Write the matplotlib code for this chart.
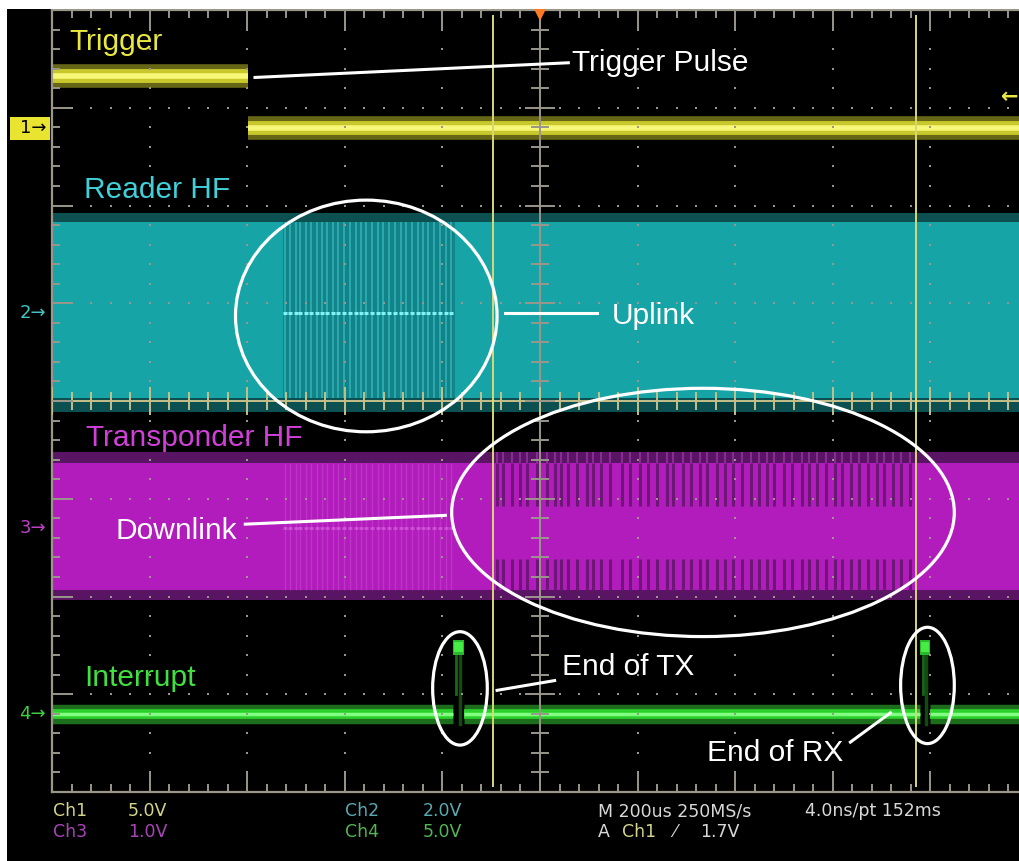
import numpy as np
import matplotlib.pyplot as plt
from matplotlib.patches import Ellipse, Rectangle

# scope screen is 10 x 8 divisions, x = 0 at the trigger point
# ---- channel data (divisions) ----
trig_levels = [3.32, 2.79]          # Ch1 high / low
trig_edge = -2.99                   # falling edge of trigger pulse

reader_outer = [-0.11, 1.92]        # Ch2 envelope
reader_inner = [0.03, 1.83]
reader_level = 0.90
uplink_span = [-2.63, -0.87]
uplink_stripes = [-2.61, -2.56, -2.50, -2.46, -2.40, -2.35, -2.28, -2.23,
                  -2.18, -2.12, -2.07, -2.01, -1.95, -1.89, -1.83, -1.78,
                  -1.72, -1.66, -1.61, -1.55, -1.49, -1.42, -1.37, -1.31,
                  -1.25, -1.20, -1.15, -1.09, -1.02, -0.96, -0.91]

transp_outer = [-2.04, -0.52]       # Ch3 envelope
transp_inner = [-1.93, -0.63]
transp_level = -1.30
downlink_stripes = [-0.44, -0.38, -0.29, -0.20, -0.13, -0.03, 0.07, 0.15,
                    0.22, 0.29, 0.38, 0.48, 0.54, 0.63, 0.72, 0.84, 0.92,
                    1.02, 1.11, 1.20, 1.30, 1.36, 1.47, 1.55, 1.64, 1.71,
                    1.81, 1.90, 1.98, 2.07, 2.16, 2.24, 2.33, 2.40, 2.50,
                    2.58, 2.68, 2.76, 2.84, 2.93, 3.02, 3.09, 3.19, 3.27,
                    3.36, 3.45, 3.52, 3.62, 3.70, 3.79]
downlink_top = [-0.63, -1.07]
downlink_bot = [-1.62, -1.93]

irq_low, irq_high = -3.20, -2.52    # Ch4
irq_pulses = [-0.89, 3.89]
irq_width = 0.11

cursors = [-0.48, 3.85]

C_YEL = '#e8e840'
C_CYAN = '#17a4a7'
C_MAG = '#b21cbc'
C_GRID = '#9a968a'

fig = plt.figure(figsize=(10.19, 8.61), dpi=100, facecolor='black')
ax = fig.add_axes([52/1019, 69/861, 976/1019, 782/861])
ax.set_facecolor('black')
ax.set_xlim(-5, 5)
ax.set_ylim(-4, 4)
ax.axis('off')

# ---- Ch2 reader HF ----
ax.fill_between([-5, 5], *reader_outer, color='#0d5052', lw=0, zorder=1)
ax.fill_between([-5, 5], *reader_inner, color=C_CYAN, lw=0, zorder=1)
ax.fill_between(uplink_span, *reader_inner, color='#128489', lw=0, zorder=1)
ax.vlines(uplink_stripes, reader_inner[0], reader_inner[1],
          color='#3cc6c8', lw=1.1, alpha=0.75, zorder=2)
ax.plot(uplink_stripes, [reader_level]*len(uplink_stripes), ls='none',
        marker='_', ms=3.5, mew=2.2, color='#80f4f4', zorder=2)

# ---- Ch3 transponder HF ----
ax.fill_between([-5, 5], *transp_outer, color='#5a1464', lw=0, zorder=1)
ax.fill_between([-5, 5], *transp_inner, color=C_MAG, lw=0, zorder=1)
ax.vlines(uplink_stripes, transp_inner[0], transp_inner[1],
          color='#d060d8', lw=1, alpha=0.35, zorder=2)
ax.plot(uplink_stripes, [transp_level]*len(uplink_stripes), ls='none',
        marker='_', ms=3.5, mew=2, color='#e070e8', alpha=0.6, zorder=2)
ax.vlines(downlink_stripes, *downlink_top, color='#6c1676', lw=2.2, zorder=2)
ax.vlines(downlink_stripes, *downlink_bot, color='#6c1676', lw=2.2, zorder=2)
ax.vlines(downlink_stripes, transp_outer[1], downlink_top[0],
          color='#8a2a94', lw=1.5, zorder=2)

# ---- Ch1 trigger ----
segs1 = [([-5, trig_edge], trig_levels[0]), ([trig_edge, 5], trig_levels[1])]
for xs, lv in segs1:
    ax.plot(xs, [lv, lv], color='#666616', lw=17, solid_capstyle='butt', zorder=3)
    ax.plot(xs, [lv, lv], color='#c8c82c', lw=10, solid_capstyle='butt', zorder=3)
    ax.plot(xs, [lv, lv], color='#f8f878', lw=4, solid_capstyle='butt', zorder=3)

# ---- Ch4 interrupt ----
edges = [-5]
for p in irq_pulses:
    edges += [p, p + irq_width]
edges += [5]
for a, b in zip(edges[::2], edges[1::2]):
    ax.plot([a, b], [irq_low]*2, color='#1c6e1c', lw=14, solid_capstyle='butt', zorder=3)
    ax.plot([a, b], [irq_low]*2, color='#2cd02c', lw=7, solid_capstyle='butt', zorder=3)
    ax.plot([a, b], [irq_low]*2, color='#80ff80', lw=2.5, solid_capstyle='butt', zorder=3)
for p in irq_pulses:
    ax.plot([p + 0.03, p + 0.03], [irq_high, irq_low + 0.2], color='#186818', lw=2, zorder=3)
    ax.plot([p + 0.07, p + 0.07], [irq_high - 0.05, irq_low - 0.1], color='#124a12', lw=2.5, zorder=3)
    ax.add_patch(Rectangle((p, irq_high - 0.08), irq_width, 0.16,
                           fc='#2cb82c', ec='none', zorder=3))
    ax.add_patch(Rectangle((p + 0.01, irq_high - 0.05), irq_width - 0.02, 0.1,
                           fc='#44ec44', ec='none', zorder=3))

# ---- graticule ----
steps = np.round(np.arange(-5, 5.001, 0.2), 2)
vsteps = np.round(np.arange(-4, 4.001, 0.2), 2)
for xv in [-4, -3, -2, -1, 1, 2, 3, 4]:
    ax.plot([xv]*len(vsteps), vsteps, ls='none', marker='s', ms=1.6,
            color=C_GRID, mew=0, zorder=4)
for yv in [-3, -2, -1, 1, 2, 3]:
    ax.plot(steps, [yv]*len(steps), ls='none', marker='s', ms=1.6,
            color=C_GRID, mew=0, zorder=4)
ax.plot([-5, -5], [-4, 4], color=C_GRID, lw=1.6, zorder=4, clip_on=False)
ax.plot([-5, 5], [-4, -4], color=C_GRID, lw=1.6, zorder=4, clip_on=False)
ax.plot([-5, 5], [4, 4], color=C_GRID, lw=1.6, zorder=4, clip_on=False)
ax.axvline(0, color=C_GRID, lw=1.4, zorder=4)
ax.axhline(0, color='#c4c08a', lw=1.4, zorder=4)
for xv in steps:
    big = abs(xv - round(xv)) < 1e-6
    ln = 0.2 if big else 0.07
    ax.plot([xv, xv], [4, 4 - ln], color=C_GRID, lw=1.4, zorder=4)
    ax.plot([xv, xv], [-4, -4 + ln], color=C_GRID, lw=1.4, zorder=4)
    cl = 0.13 if big else 0.08
    ax.plot([xv, xv], [-cl, cl], color='#c4c08a', lw=1.4, zorder=4)
for yv in vsteps:
    big = abs(yv - round(yv)) < 1e-6
    ln = 0.2 if big else 0.07
    ax.plot([-5, -5 + ln], [yv, yv], color=C_GRID, lw=1.4, zorder=4)
    cl = 0.14 if big else 0.08
    ax.plot([-cl, cl], [yv, yv], color=C_GRID, lw=1.4, zorder=4)

# cursors and markers
ax.vlines(cursors, -3.95, 3.95, color='#d8d878', lw=1.4, zorder=5)
ax.plot([0], [3.96], marker='v', ms=10, color='#ff7a24', mew=0,
        zorder=6, clip_on=False)
ax.text(4.72, 3.11, '←', color=C_YEL, fontsize=15, fontweight='bold',
        ha='left', va='center', zorder=6)

ax.add_patch(Rectangle((-5.43, 2.67), 0.41, 0.24, fc='#e8e430', ec='none',
                       clip_on=False, zorder=6))
ax.text(-5.06, trig_levels[1], '1→', color='black', fontsize=13,
        ha='right', va='center', clip_on=False, zorder=7)
ax.text(-5.06, reader_level, '2→', color='#40c4c4', fontsize=13,
        ha='right', va='center', clip_on=False, zorder=7)
ax.text(-5.06, transp_level, '3→', color='#c040c8', fontsize=13,
        ha='right', va='center', clip_on=False, zorder=7)
ax.text(-5.06, irq_low, '4→', color='#40d040', fontsize=13,
        ha='right', va='center', clip_on=False, zorder=7)

# ---- channel labels ----
FN = 'Liberation Sans'
lab = dict(fontsize=21.5, family=FN, va='baseline', ha='left', zorder=8)
ax.text(-4.82, 3.59, 'Trigger', color='#e8e840', **lab)
ax.text(-4.67, 2.08, 'Reader HF', color='#40d0d8', **lab)
ax.text(-4.65, -0.46, 'Transponder HF', color='#d040d8', **lab)
ax.text(-4.67, -2.92, 'Interrupt', color='#40e040', **lab)

# ---- white annotations ----
W = 'white'
ax.plot([-2.92, 0.29], [3.31, 3.46], color=W, lw=2.2, zorder=8)
ax.text(0.33, 3.38, 'Trigger Pulse', color=W, **lab)
ax.add_patch(Ellipse((-1.78, 0.87), 2.68, 2.37, fill=False, ec=W, lw=2.3, zorder=8))
ax.plot([-0.36, 0.58], [0.90, 0.90], color=W, lw=2.2, zorder=8)
ax.text(0.74, 0.79, 'Uplink', color=W, **lab)
ax.add_patch(Ellipse((1.67, -1.14), 5.15, 2.54, fill=False, ec=W, lw=2.3, zorder=8))
ax.plot([-3.02, -0.97], [-1.26, -1.17], color=W, lw=2.2, zorder=8)
ax.text(-4.35, -1.41, 'Downlink', color=W, **lab)
ax.add_patch(Ellipse((-0.82, -2.94), 0.56, 1.16, fill=False, ec=W, lw=2.3, zorder=8))
ax.plot([-0.44, 0.15], [-2.96, -2.86], color=W, lw=2.2, zorder=8)
ax.text(0.225, -2.80, 'End of TX', color=W, **lab)
ax.add_patch(Ellipse((3.97, -2.91), 0.55, 1.19, fill=False, ec=W, lw=2.3, zorder=8))
ax.plot([3.18, 3.59], [-3.49, -3.19], color=W, lw=2.2, zorder=8)
ax.text(1.71, -3.68, 'End of RX', color=W, **lab)

# ---- readout ----
def ftxt(px, py, s, c):
    fig.text(px/1019, 1 - py/861, s, color=c, fontsize=12.5,
             family='DejaVu Sans', ha='left', va='center')

ftxt(53, 811, 'Ch1', '#d4d48a'); ftxt(128, 811, '5.0V', '#d4d48a')
ftxt(53, 832, 'Ch3', '#a844b8'); ftxt(128, 832, '1.0V', '#a844b8')
ftxt(345, 811, 'Ch2', '#5aaab2'); ftxt(423, 811, '2.0V', '#5aaab2')
ftxt(345, 832, 'Ch4', '#52b452'); ftxt(423, 832, '5.0V', '#52b452')
ftxt(598, 811, 'M 200us 250MS/s', '#d8d8d8')
ftxt(805, 811, '4.0ns/pt 152ms', '#d8d8d8')
ftxt(598, 832, 'A', '#d8d8d8'); ftxt(622, 832, 'Ch1', '#d4d48a')
ftxt(673, 832, '⁄', '#d8d8d8'); ftxt(700, 832, '1.7V', '#d8d8d8')

# white screenshot margins
fig.patches.append(Rectangle((0, 0), 7/1019, 1, transform=fig.transFigure,
                             fc='white', ec='none', zorder=20))
fig.patches.append(Rectangle((0, 1 - 9/861), 1, 9/861, transform=fig.transFigure,
                             fc='white', ec='none', zorder=20))

fig.savefig('out.png', dpi=100, facecolor='black')
